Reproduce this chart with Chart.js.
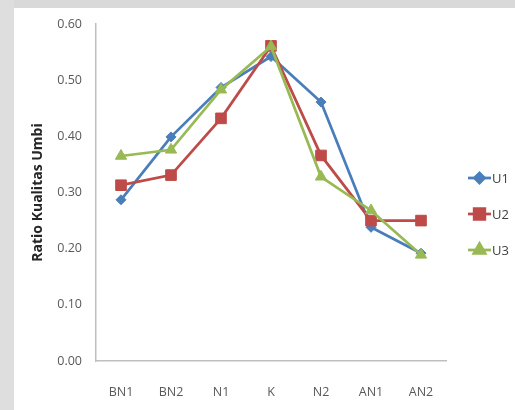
<!DOCTYPE html>
<html>
<head>
<meta charset="utf-8">
<script src="https://cdn.jsdelivr.net/npm/chart.js@4/dist/chart.umd.min.js"></script>
<style>
  html, body { margin: 0; padding: 0; background: #ffffff; }
  #wrap { position: relative; width: 515px; height: 410px; overflow: hidden; }
  #topband { position: absolute; left: 0; top: 0; width: 515px; height: 8px; background: #d9d9d9; }
  #leftband { position: absolute; left: 0; top: 0; width: 14px; height: 410px; background: #dedede; }
  canvas { position: absolute; left: 0; top: 0; }
</style>
</head>
<body>
<div id="wrap">
  <div id="topband"></div>
  <div id="leftband"></div>
  <canvas id="chart" width="515" height="410"></canvas>
</div>
<script>
// Perlakuan (kategori sumbu X)
const categories = ['BN1', 'BN2', 'N1', 'K', 'N2', 'AN1', 'AN2'];

// Rasio kualitas umbi per ulangan
const u1 = [0.287, 0.399, 0.487, 0.542, 0.461, 0.238, 0.192];
const u2 = [0.313, 0.331, 0.432, 0.561, 0.366, 0.250, 0.250];
const u3 = [0.365, 0.376, 0.483, 0.560, 0.328, 0.268, 0.189];

const seriesNames = ['U1', 'U2', 'U3'];
const yTicks = [0, 0.1, 0.2, 0.3, 0.4, 0.5, 0.6];

const fontFamily = "'Open Sans', 'Liberation Sans', sans-serif";
const tickFont = { family: fontFamily, size: 12.5 };

// Legend drawn at the right with line + marker samples
const sideLegend = {
  id: 'sideLegend',
  afterDraw(chart) {
    const ctx = chart.ctx;
    const rows = [178, 214, 250];
    const x0 = 468, x1 = 491;
    chart.data.datasets.forEach((ds, i) => {
      const y = rows[i];
      ctx.save();
      ctx.strokeStyle = ds.borderColor;
      ctx.lineWidth = ds.borderWidth;
      ctx.beginPath();
      ctx.moveTo(x0, y);
      ctx.lineTo(x1, y);
      ctx.stroke();
      ctx.fillStyle = ds.pointBackgroundColor;
      ctx.strokeStyle = ds.pointBorderColor;
      Chart.helpers.drawPoint(ctx, {
        pointStyle: ds.pointStyle,
        radius: ds.pointRadius,
        borderWidth: ds.pointBorderWidth
      }, (x0 + x1) / 2, y);
      ctx.fillStyle = '#404040';
      ctx.font = "13px " + fontFamily;
      ctx.textBaseline = 'middle';
      ctx.textAlign = 'left';
      ctx.fillText(ds.label, x1 + 1, y + 1);
      ctx.restore();
    });
  }
};

function series(label, data, color, style, radius, order) {
  return {
    label, data, order,
    borderColor: color,
    backgroundColor: color,
    borderWidth: 2.75,
    pointStyle: style,
    pointRadius: radius,
    pointHoverRadius: radius,
    pointBackgroundColor: color,
    pointBorderColor: color,
    pointBorderWidth: 1,
    tension: 0,
    fill: false
  };
}

new Chart(document.getElementById('chart'), {
  type: 'line',
  data: {
    labels: categories,
    datasets: [
      series(seriesNames[0], u1, '#4a7ebb', 'rectRot', 5, 3),
      series(seriesNames[1], u2, '#be4b48', 'rect', 7.5, 2),
      series(seriesNames[2], u3, '#98b954', 'triangle', 6.5, 1)
    ]
  },
  options: {
    responsive: false,
    animation: false,
    events: [],
    layout: { padding: { left: 0, right: 69, top: 24, bottom: 0 } },
    plugins: {
      legend: { display: false },
      tooltip: { enabled: false }
    },
    scales: {
      x: {
        offset: true,
        grid: { display: false, drawTicks: false },
        border: { display: true, color: '#bfbfbf', width: 1.5 },
        ticks: { font: tickFont, color: '#595959', padding: 24 },
        afterFit(scale) { scale.height = 49; }
      },
      y: {
        min: 0,
        max: 0.6,
        afterBuildTicks(scale) { scale.ticks = yTicks.map(v => ({ value: v })); },
        grid: { display: false, drawTicks: false },
        border: { display: true, color: '#bfbfbf', width: 1.5 },
        ticks: {
          font: tickFont,
          color: '#595959',
          padding: 14,
          callback: v => Number(v).toFixed(2)
        },
        title: {
          display: true,
          text: 'Ratio Kualitas Umbi',
          color: '#262626',
          font: { family: fontFamily, size: 14, weight: 'bold' },
          padding: { top: 30, bottom: 0 }
        },
        afterFit(scale) { scale.width = 96; }
      }
    }
  },
  plugins: [sideLegend]
});
</script>
</body>
</html>
